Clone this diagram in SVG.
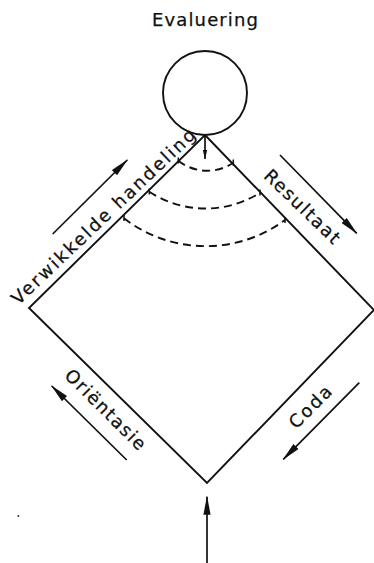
<svg xmlns="http://www.w3.org/2000/svg" width="374" height="563" viewBox="0 0 374 563">
<defs>
<style>
.ln{fill:none;stroke:#111;stroke-width:1.9;stroke-linejoin:miter}
.ar{fill:none;stroke:#111;stroke-width:1.7}
.dash{fill:none;stroke:#111;stroke-width:1.9;stroke-dasharray:8 5}
.tk{fill:none;stroke:#111;stroke-width:1.5}
.lbl{font-family:"DejaVu Sans","Liberation Sans",sans-serif;font-size:18px;fill:#111;stroke:#111;stroke-width:0.25}
</style>
<marker id="ah" markerUnits="userSpaceOnUse" markerWidth="19" markerHeight="8" viewBox="0 0 19 8" refX="18" refY="4" orient="auto">
<path d="M0,0.4 L19,4 L0,7.6 z" fill="#111"/>
</marker>
<marker id="ahs" markerUnits="userSpaceOnUse" markerWidth="9" markerHeight="6" viewBox="0 0 9 6" refX="9" refY="3" orient="auto">
<path d="M0,0.8 L9,3 L0,5.2 z" fill="#111"/>
</marker>
</defs>
<rect width="374" height="563" fill="#fff"/>

<g id="evaluering">
<circle class="ln" cx="205" cy="93" r="42"/>
<text class="lbl" x="205" y="26" text-anchor="middle" textLength="106" lengthAdjust="spacing">Evaluering</text>
</g>

<g id="diamond">
<path class="ln" d="M205,135 L374,310 L207,483 L29,308 Z"/>
</g>

<g id="arcs">
<path class="dash" d="M178.3,160.7 A46.5,46.5 0 0 0 233.3,162.7"/>
<path class="dash" d="M149.3,191.7 A102,102 0 0 0 260,192.7"/>
<path class="dash" d="M124,218.3 A133.5,133.5 0 0 0 285,220"/>
<path class="tk" d="M178.3,157.5 V163.5 M233.3,159.5 V165.5 M149.3,188.5 V194.5 M260,189.5 V195.5 M124,215 V221 M285,217 V223"/>
</g>

<g id="label-verwikkelde-handeling">
<text class="lbl" transform="translate(107.6,221.1) rotate(-43.5)" text-anchor="middle" textLength="246" lengthAdjust="spacing">Verwikkelde handeling</text>
</g>
<g id="label-resultaat">
<text class="lbl" transform="translate(297.9,211) rotate(44)" text-anchor="middle" textLength="98" lengthAdjust="spacing">Resultaat</text>
</g>
<g id="label-orientasie">
<text class="lbl" transform="translate(101.1,413.9) rotate(45)" text-anchor="middle" textLength="106" lengthAdjust="spacing">Oriëntasie</text>
</g>
<g id="label-coda">
<text class="lbl" transform="translate(314.7,411.4) rotate(-45)" text-anchor="middle" textLength="52" lengthAdjust="spacing">Coda</text>
</g>

<g id="connectors">
<line class="ar" x1="205" y1="136" x2="205" y2="159" marker-end="url(#ahs)"/>
<line class="ar" x1="52.7" y1="234" x2="127.3" y2="160" marker-end="url(#ah)"/>
<line class="ar" x1="280" y1="155" x2="356.7" y2="233.3" marker-end="url(#ah)"/>
<line class="ar" x1="126.7" y1="460" x2="51.7" y2="386" marker-end="url(#ah)"/>
<line class="ar" x1="359.3" y1="382.7" x2="283.3" y2="459.3" marker-end="url(#ah)"/>
<line class="ar" x1="207" y1="563" x2="207" y2="496.7" marker-end="url(#ah)"/>
</g>

<circle cx="18.3" cy="516" r="1" fill="#333"/>
</svg>
